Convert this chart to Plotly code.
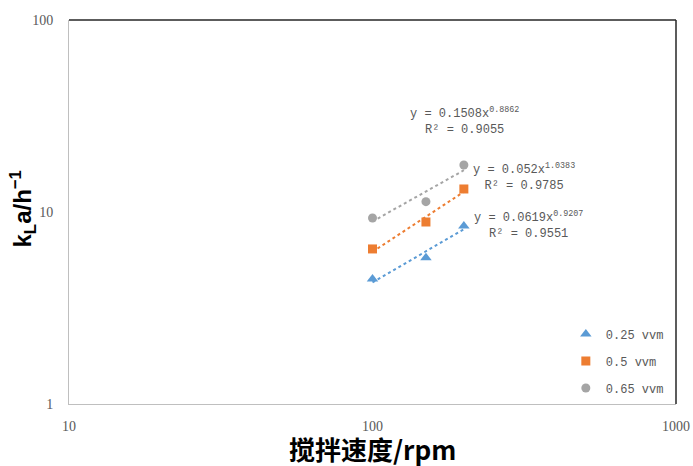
import numpy as np
import plotly.graph_objects as go

# Stirring speed (rpm) and measured kLa (h^-1) for three aeration rates
speed = [100, 150, 200]
series_names = ["0.25 vvm", "0.5 vvm", "0.65 vvm"]
kla_025 = [4.48, 5.78, 8.45]
kla_05 = [6.42, 8.87, 13.18]
kla_065 = [9.30, 11.32, 17.57]

# Power-law trendline coefficients y = a * x^b and their R^2
coef_a = [0.0619, 0.052, 0.1508]
coef_b = [0.9207, 1.0383, 0.8862]
r_squared = [0.9551, 0.9785, 0.9055]

colors = ["#5B9BD5", "#ED7D31", "#A5A5A5"]
symbols = ["triangle-up", "square", "circle"]
sizes = [10, 9, 9]
measured = [kla_025, kla_05, kla_065]

fig = go.Figure()

# Dotted power-law trendlines (straight on log-log axes)
trend_x = np.array([speed[0], speed[-1]], dtype=float)
for a, b, c in zip(coef_a, coef_b, colors):
    fig.add_trace(go.Scatter(
        x=trend_x, y=a * trend_x ** b, mode="lines",
        line=dict(color=c, width=2, dash="dot"),
        showlegend=False, hoverinfo="skip"))

# Measured points
for name, vals, c, s, sz in zip(series_names, measured, colors, symbols, sizes):
    fig.add_trace(go.Scatter(
        x=speed, y=vals, mode="markers", name=name, legendgroup=name,
        marker=dict(color=c, symbol=s, size=sz, line=dict(width=0))))

# Trendline equations
label_font = dict(family="Liberation Mono", size=12, color="#595959")
label_pos = [(0.757, 0.465), (0.75, 0.591), (0.652, 0.738)]
for (px, py), a, b, r2 in zip(label_pos, coef_a, coef_b, r_squared):
    fig.add_annotation(
        xref="paper", yref="paper", x=px, y=py, xanchor="center", yanchor="middle",
        text=f"y = {a}x<sup>{b}</sup><br>R² = {r2}", showarrow=False,
        align="center", font=label_font)

# Axis titles
fig.add_annotation(
    xref="paper", yref="paper", x=-0.0765, y=0.508, xanchor="center", yanchor="middle",
    text="k<sub>L</sub>a/h<sup>−1</sup>", textangle=-90, showarrow=False,
    font=dict(family="Liberation Sans", size=24, color="#000000", weight="bold"))
fig.add_annotation(
    xref="paper", yref="paper", x=0.5, y=-0.116, xanchor="center", yanchor="middle",
    text="搅拌速度/rpm", showarrow=False,
    font=dict(family="Noto Sans CJK SC", size=26, color="#000000", weight="bold"))

# Dark frame on top and right edges of the plot area
frame = dict(color="#262626", width=1.5)
fig.add_shape(type="line", xref="paper", yref="paper", x0=0, y0=1, x1=1, y1=1, line=frame)
fig.add_shape(type="line", xref="paper", yref="paper", x0=1, y0=1, x1=1, y1=0, line=frame)

tick_font = dict(family="Liberation Serif", size=14, color="#595959")
fig.update_xaxes(
    type="log", range=[1, 3], tickvals=[10, 100, 1000], ticktext=["10", "100", "1000"],
    showgrid=False, zeroline=False, showline=True, linecolor="#BFBFBF", linewidth=1,
    ticks="", tickfont=tick_font, ticklabelstandoff=9, automargin=False)
fig.update_yaxes(
    type="log", range=[0, 2], tickvals=[1, 10, 100], ticktext=["1", "10", "100"],
    showgrid=False, zeroline=False, showline=True, linecolor="#BFBFBF", linewidth=1,
    ticks="", tickfont=tick_font, ticklabelstandoff=12, automargin=False)

fig.update_layout(
    width=693, height=466,
    margin=dict(l=69, r=17, t=20, b=62, autoexpand=False),
    paper_bgcolor="white", plot_bgcolor="white",
    legend=dict(x=0.8185, y=0.22, xanchor="left", yanchor="top",
                font=dict(family="Liberation Mono", size=12, color="#595959"),
                tracegroupgap=8, itemwidth=30, bgcolor="rgba(0,0,0,0)"),
    showlegend=True,
)

fig.write_html("out.html")
